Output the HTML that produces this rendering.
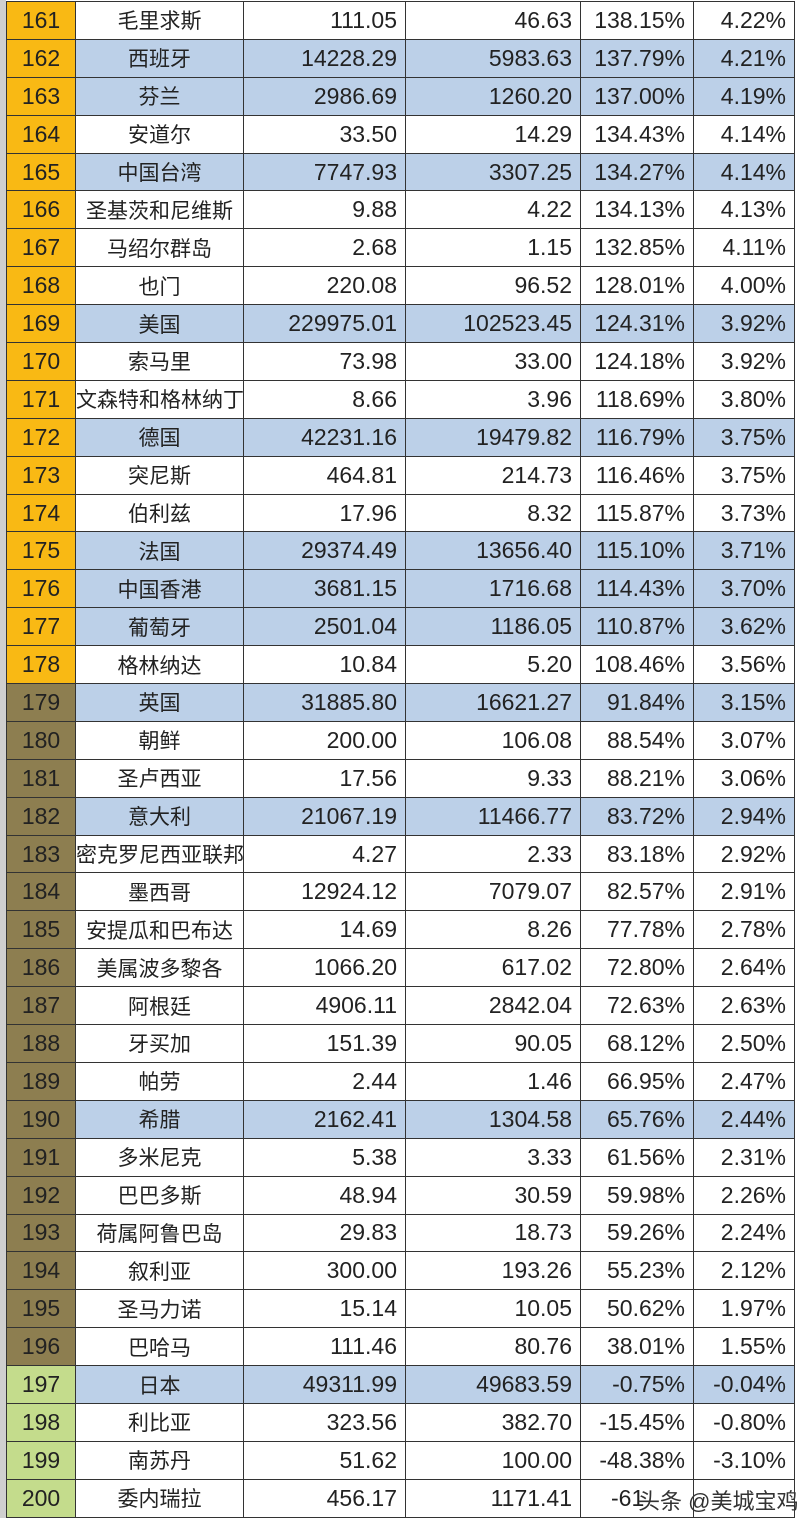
<!DOCTYPE html>
<html><head><meta charset="utf-8"><style>
body{margin:0;width:800px;height:1526px;background:#fff;overflow:hidden;position:relative;font-family:"Liberation Sans","Noto Sans CJK SC",sans-serif;}
.strip{position:absolute;left:0;top:0;width:6px;height:1518px;background:#cfcfcf}
table{position:absolute;left:6px;top:1px;border-collapse:collapse;table-layout:fixed;width:788px}
td{height:36.9px;border:1px solid #333;padding:0;font-size:23px;color:#222;white-space:nowrap;overflow:hidden}
td.r{text-align:center;background:#F9B914}
td.o{background:#8D7E50}
td.g{background:#C4DC8C}
td.n{text-align:center;font-size:21px}
td.v{text-align:right;padding-right:8px}
tr.b td:not(.r){background:#BCD0E8}
</style></head><body><div class="strip"></div>
<table>
<colgroup><col style="width:69px"><col style="width:168px"><col style="width:162px"><col style="width:175px"><col style="width:113px"><col style="width:101px"></colgroup>
<tr><td class="r">161</td><td class="n">毛里求斯</td><td class="v">111.05</td><td class="v">46.63</td><td class="v">138.15%</td><td class="v">4.22%</td></tr>
<tr class="b"><td class="r">162</td><td class="n">西班牙</td><td class="v">14228.29</td><td class="v">5983.63</td><td class="v">137.79%</td><td class="v">4.21%</td></tr>
<tr class="b"><td class="r">163</td><td class="n">芬兰</td><td class="v">2986.69</td><td class="v">1260.20</td><td class="v">137.00%</td><td class="v">4.19%</td></tr>
<tr><td class="r">164</td><td class="n">安道尔</td><td class="v">33.50</td><td class="v">14.29</td><td class="v">134.43%</td><td class="v">4.14%</td></tr>
<tr class="b"><td class="r">165</td><td class="n">中国台湾</td><td class="v">7747.93</td><td class="v">3307.25</td><td class="v">134.27%</td><td class="v">4.14%</td></tr>
<tr><td class="r">166</td><td class="n">圣基茨和尼维斯</td><td class="v">9.88</td><td class="v">4.22</td><td class="v">134.13%</td><td class="v">4.13%</td></tr>
<tr><td class="r">167</td><td class="n">马绍尔群岛</td><td class="v">2.68</td><td class="v">1.15</td><td class="v">132.85%</td><td class="v">4.11%</td></tr>
<tr><td class="r">168</td><td class="n">也门</td><td class="v">220.08</td><td class="v">96.52</td><td class="v">128.01%</td><td class="v">4.00%</td></tr>
<tr class="b"><td class="r">169</td><td class="n">美国</td><td class="v">229975.01</td><td class="v">102523.45</td><td class="v">124.31%</td><td class="v">3.92%</td></tr>
<tr><td class="r">170</td><td class="n">索马里</td><td class="v">73.98</td><td class="v">33.00</td><td class="v">124.18%</td><td class="v">3.92%</td></tr>
<tr><td class="r">171</td><td class="n">文森特和格林纳丁</td><td class="v">8.66</td><td class="v">3.96</td><td class="v">118.69%</td><td class="v">3.80%</td></tr>
<tr class="b"><td class="r">172</td><td class="n">德国</td><td class="v">42231.16</td><td class="v">19479.82</td><td class="v">116.79%</td><td class="v">3.75%</td></tr>
<tr><td class="r">173</td><td class="n">突尼斯</td><td class="v">464.81</td><td class="v">214.73</td><td class="v">116.46%</td><td class="v">3.75%</td></tr>
<tr><td class="r">174</td><td class="n">伯利兹</td><td class="v">17.96</td><td class="v">8.32</td><td class="v">115.87%</td><td class="v">3.73%</td></tr>
<tr class="b"><td class="r">175</td><td class="n">法国</td><td class="v">29374.49</td><td class="v">13656.40</td><td class="v">115.10%</td><td class="v">3.71%</td></tr>
<tr class="b"><td class="r">176</td><td class="n">中国香港</td><td class="v">3681.15</td><td class="v">1716.68</td><td class="v">114.43%</td><td class="v">3.70%</td></tr>
<tr class="b"><td class="r">177</td><td class="n">葡萄牙</td><td class="v">2501.04</td><td class="v">1186.05</td><td class="v">110.87%</td><td class="v">3.62%</td></tr>
<tr><td class="r">178</td><td class="n">格林纳达</td><td class="v">10.84</td><td class="v">5.20</td><td class="v">108.46%</td><td class="v">3.56%</td></tr>
<tr class="b"><td class="r o">179</td><td class="n">英国</td><td class="v">31885.80</td><td class="v">16621.27</td><td class="v">91.84%</td><td class="v">3.15%</td></tr>
<tr><td class="r o">180</td><td class="n">朝鲜</td><td class="v">200.00</td><td class="v">106.08</td><td class="v">88.54%</td><td class="v">3.07%</td></tr>
<tr><td class="r o">181</td><td class="n">圣卢西亚</td><td class="v">17.56</td><td class="v">9.33</td><td class="v">88.21%</td><td class="v">3.06%</td></tr>
<tr class="b"><td class="r o">182</td><td class="n">意大利</td><td class="v">21067.19</td><td class="v">11466.77</td><td class="v">83.72%</td><td class="v">2.94%</td></tr>
<tr><td class="r o">183</td><td class="n">密克罗尼西亚联邦</td><td class="v">4.27</td><td class="v">2.33</td><td class="v">83.18%</td><td class="v">2.92%</td></tr>
<tr><td class="r o">184</td><td class="n">墨西哥</td><td class="v">12924.12</td><td class="v">7079.07</td><td class="v">82.57%</td><td class="v">2.91%</td></tr>
<tr><td class="r o">185</td><td class="n">安提瓜和巴布达</td><td class="v">14.69</td><td class="v">8.26</td><td class="v">77.78%</td><td class="v">2.78%</td></tr>
<tr><td class="r o">186</td><td class="n">美属波多黎各</td><td class="v">1066.20</td><td class="v">617.02</td><td class="v">72.80%</td><td class="v">2.64%</td></tr>
<tr><td class="r o">187</td><td class="n">阿根廷</td><td class="v">4906.11</td><td class="v">2842.04</td><td class="v">72.63%</td><td class="v">2.63%</td></tr>
<tr><td class="r o">188</td><td class="n">牙买加</td><td class="v">151.39</td><td class="v">90.05</td><td class="v">68.12%</td><td class="v">2.50%</td></tr>
<tr><td class="r o">189</td><td class="n">帕劳</td><td class="v">2.44</td><td class="v">1.46</td><td class="v">66.95%</td><td class="v">2.47%</td></tr>
<tr class="b"><td class="r o">190</td><td class="n">希腊</td><td class="v">2162.41</td><td class="v">1304.58</td><td class="v">65.76%</td><td class="v">2.44%</td></tr>
<tr><td class="r o">191</td><td class="n">多米尼克</td><td class="v">5.38</td><td class="v">3.33</td><td class="v">61.56%</td><td class="v">2.31%</td></tr>
<tr><td class="r o">192</td><td class="n">巴巴多斯</td><td class="v">48.94</td><td class="v">30.59</td><td class="v">59.98%</td><td class="v">2.26%</td></tr>
<tr><td class="r o">193</td><td class="n">荷属阿鲁巴岛</td><td class="v">29.83</td><td class="v">18.73</td><td class="v">59.26%</td><td class="v">2.24%</td></tr>
<tr><td class="r o">194</td><td class="n">叙利亚</td><td class="v">300.00</td><td class="v">193.26</td><td class="v">55.23%</td><td class="v">2.12%</td></tr>
<tr><td class="r o">195</td><td class="n">圣马力诺</td><td class="v">15.14</td><td class="v">10.05</td><td class="v">50.62%</td><td class="v">1.97%</td></tr>
<tr><td class="r o">196</td><td class="n">巴哈马</td><td class="v">111.46</td><td class="v">80.76</td><td class="v">38.01%</td><td class="v">1.55%</td></tr>
<tr class="b"><td class="r g">197</td><td class="n">日本</td><td class="v">49311.99</td><td class="v">49683.59</td><td class="v">-0.75%</td><td class="v">-0.04%</td></tr>
<tr><td class="r g">198</td><td class="n">利比亚</td><td class="v">323.56</td><td class="v">382.70</td><td class="v">-15.45%</td><td class="v">-0.80%</td></tr>
<tr><td class="r g">199</td><td class="n">南苏丹</td><td class="v">51.62</td><td class="v">100.00</td><td class="v">-48.38%</td><td class="v">-3.10%</td></tr>
<tr><td class="r g">200</td><td class="n">委内瑞拉</td><td class="v">456.17</td><td class="v">1171.41</td><td class="v" style="text-align:left;padding-left:30px;overflow:visible">-61</td><td class="v"></td></tr>
</table>
<div style="position:absolute;left:638px;top:1484px;font-size:22px;color:#333;font-family:'Liberation Sans','Noto Sans CJK SC',sans-serif">头条 @美城宝鸡</div>
</body></html>
